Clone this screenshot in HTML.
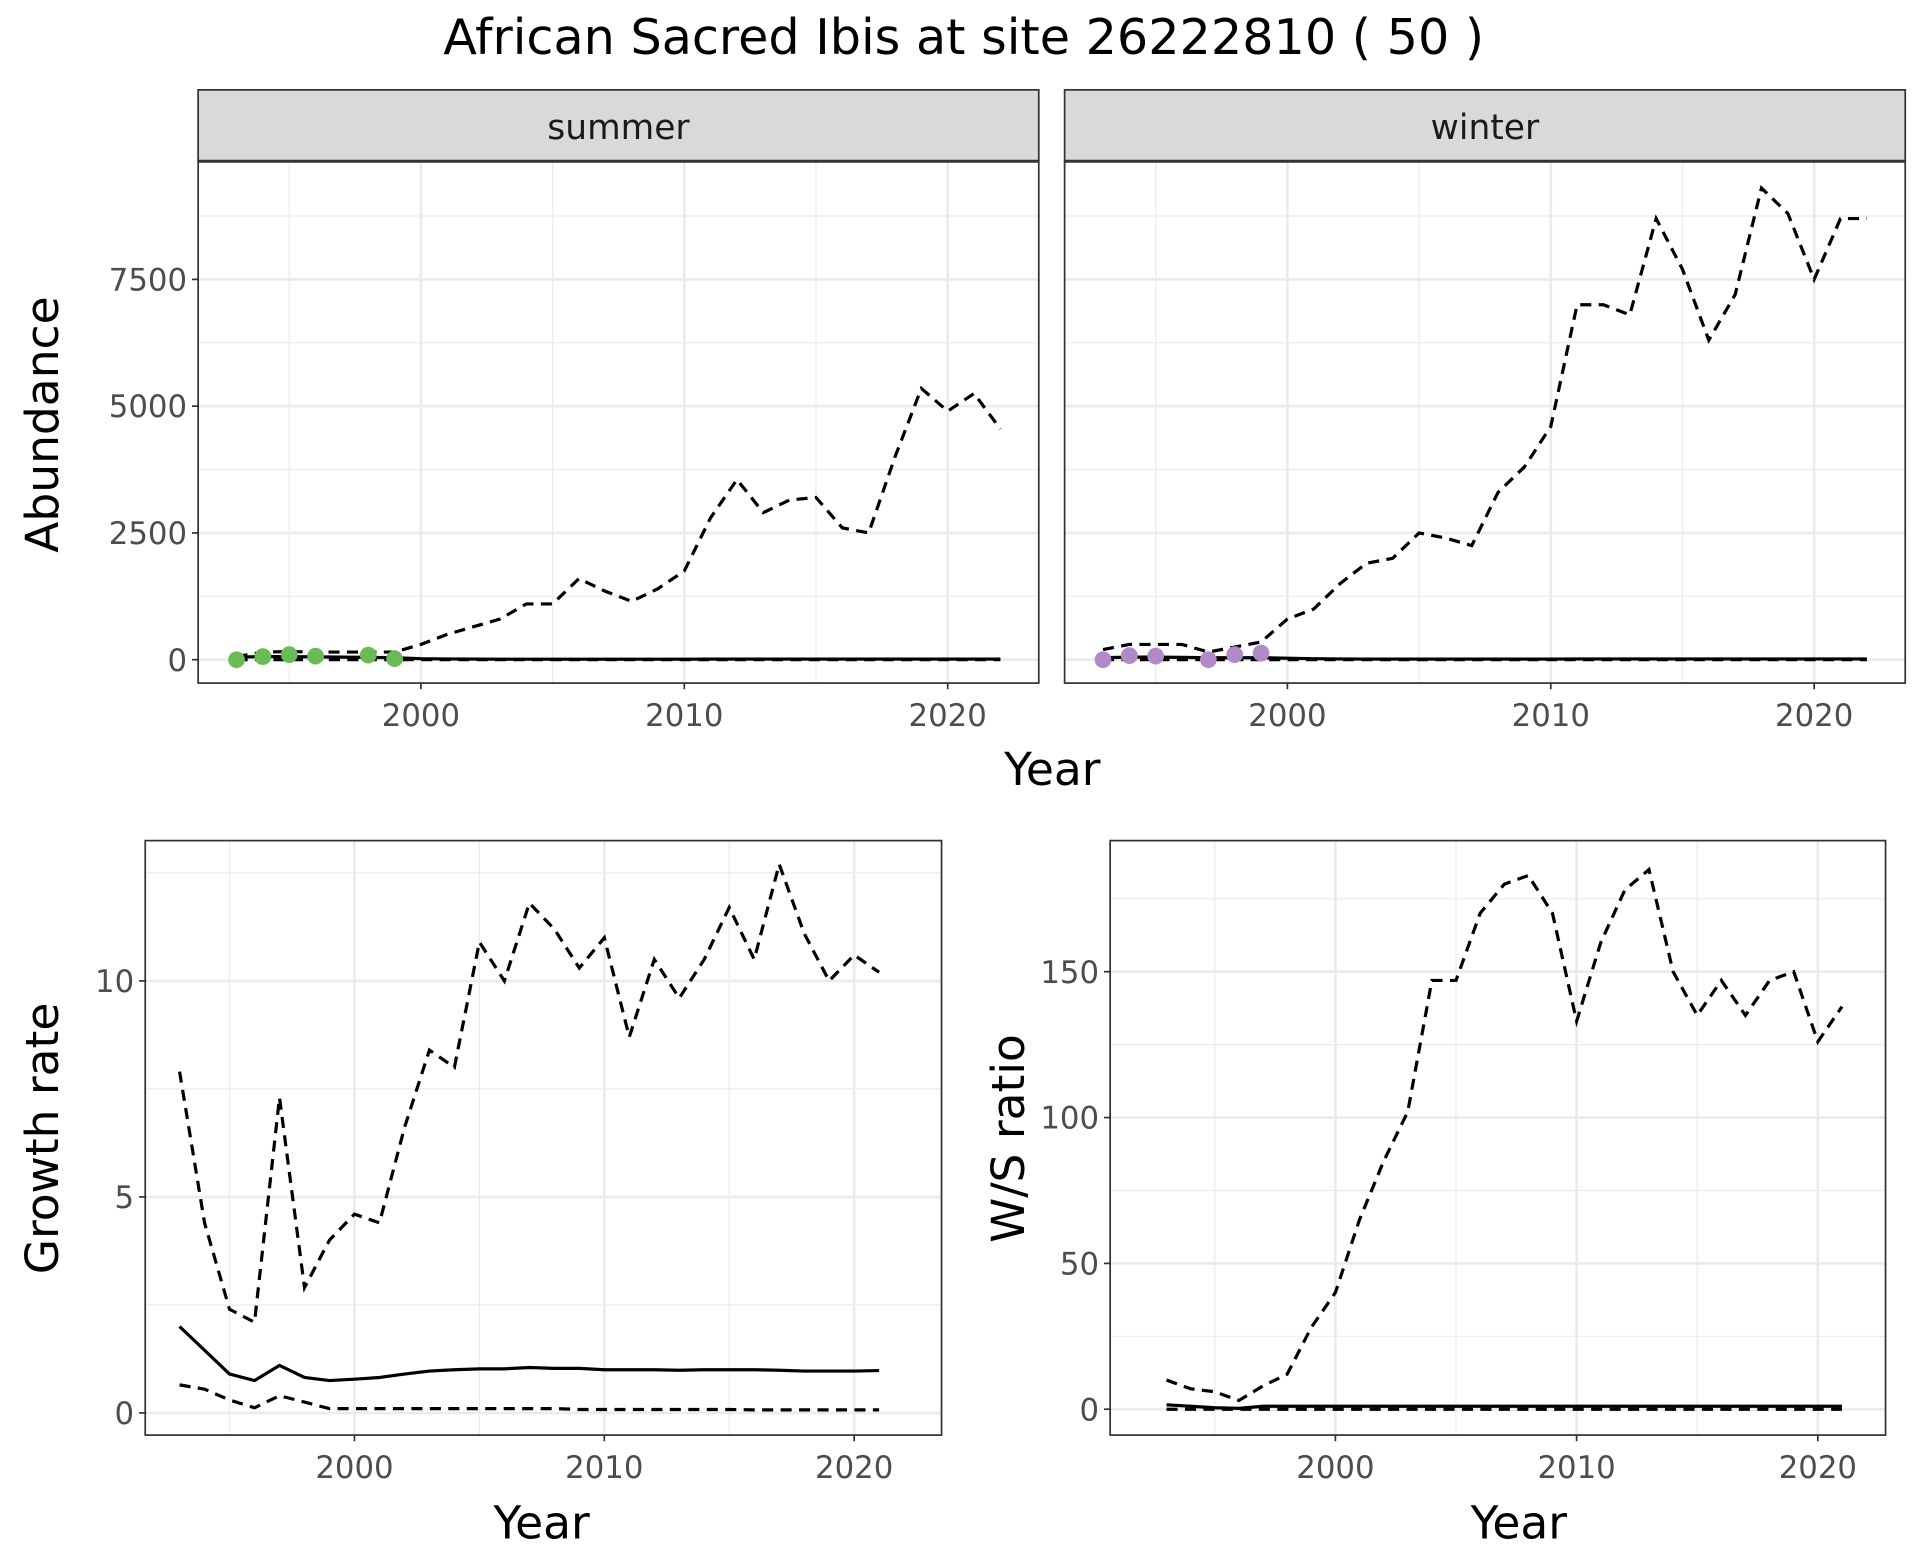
<!DOCTYPE html>
<html><head><meta charset="utf-8"><style>
html,body{margin:0;padding:0;background:#fff}
svg{display:block}
text{font-family:"DejaVu Sans","Liberation Sans",sans-serif}
</style></head><body>
<svg id="chart" width="1920" height="1560" viewBox="0 0 1560 1267.5" xmlns="http://www.w3.org/2000/svg">
<text x="783" y="44" font-size="40" text-anchor="middle" fill="#000">African Sacred Ibis at site 26222810 ( 50 )</text>
</svg>
<script>
const years = [];
for (let y = 1993; y <= 2022; y++) years.push(y);
const summerUpper = [60,150,160,150,150,150,150,300,500,650,800,1100,1100,1600,1350,1150,1400,1750,2800,3550,2900,3150,3200,2600,2500,4000,5350,4900,5250,4550];
const summerFit = [50,60,60,55,50,45,40,20,15,12,10,10,10,10,10,10,10,10,12,12,12,12,12,12,12,12,12,12,12,12];
const summerLower = [0,0,0,0,0,0,0,0,0,0,0,0,0,0,0,0,0,0,0,0,0,0,0,0,0,0,0,0,0,0];
const summerObsYears = [1993,1994,1995,1996,1998,1999];
const summerObs = [0,60,100,70,90,20];
const winterUpper = [200,300,300,300,150,250,350,800,1000,1500,1900,2000,2500,2400,2250,3300,3800,4600,7000,7000,6800,8700,7700,6300,7200,9300,8800,7500,8700,8700];
const winterFit = [40,50,50,45,40,40,40,30,20,15,12,12,12,12,12,12,12,12,15,15,15,15,15,15,15,15,15,15,15,15];
const winterLower = summerLower;
const winterObsYears = [1993,1994,1995,1997,1998,1999];
const winterObs = [0,80,70,0,100,130];
const gYears = years.slice(0,29);
const growthUpper = [7.9,4.4,2.4,2.1,7.3,2.9,4.0,4.6,4.4,6.6,8.4,8.0,10.9,10.0,11.8,11.2,10.3,11.0,8.7,10.5,9.6,10.5,11.7,10.5,12.7,11.1,10.0,10.6,10.2];
const growthMid = [2.0,1.45,0.9,0.75,1.1,0.82,0.75,0.78,0.82,0.9,0.97,1.0,1.02,1.02,1.05,1.03,1.03,1.0,1.0,1.0,0.99,1.0,1.0,1.0,0.99,0.97,0.97,0.97,0.98];
const growthLower = [0.65,0.55,0.3,0.12,0.4,0.25,0.1,0.1,0.1,0.1,0.1,0.1,0.1,0.1,0.1,0.1,0.08,0.08,0.08,0.08,0.08,0.08,0.08,0.07,0.07,0.07,0.07,0.07,0.07];
const wsUpper = [10,7,6,3,8,12,28,40,65,85,102,147,147,170,180,183,170,133,160,178,185,150,135,147,135,147,150,126,138];
const wsMid = [1.5,1,0.5,0.3,1,1,1,1,1,1,1,1,1,1,1,1,1,1,1,1,1,1,1,1,1,1,1,1,1];
const wsLower = [0,0,0,0,0,0,0,0,0,0,0,0,0,0,0,0,0,0,0,0,0,0,0,0,0,0,0,0,0];
const abTicks = [0,2500,5000,7500];
const abMinor = [1250,3750,6250,8750];
const gTicks = [0,5,10];
const gMinor = [2.5,7.5,12.5];
const wsTicks = [0,50,100,150];
const wsMinor = [25,75,125,175];
const xTicks = [2000,2010,2020];
const xMinor = [1995,2005,2015];

const svg = document.getElementById('chart');
const NS = 'http://www.w3.org/2000/svg';
function el(tag, attrs, parent) {
  const e = document.createElementNS(NS, tag);
  for (const k in attrs) e.setAttribute(k, attrs[k]);
  (parent || svg).appendChild(e);
  return e;
}
function lin(d0, d1, r0, r1) { return v => r0 + (v - d0) * (r1 - r0) / (d1 - d0); }

function panel(name, box, xs, ys, yT, yM, showY) {
  const g = el('g', {});
  
  
  el('rect', {x: box.x0, y: box.y0, width: box.x1 - box.x0, height: box.y1 - box.y0, fill: '#fff'}, g);
  yM.forEach(v => el('line', {x1: box.x0, x2: box.x1, y1: ys(v), y2: ys(v), stroke: '#ebebeb', 'stroke-width': 1}, g));
  xMinor.forEach(v => el('line', {y1: box.y0, y2: box.y1, x1: xs(v), x2: xs(v), stroke: '#ebebeb', 'stroke-width': 1}, g));
  yT.forEach(v => el('line', {x1: box.x0, x2: box.x1, y1: ys(v), y2: ys(v), stroke: '#ebebeb', 'stroke-width': 2.2}, g));
  xTicks.forEach(v => el('line', {y1: box.y0, y2: box.y1, x1: xs(v), x2: xs(v), stroke: '#ebebeb', 'stroke-width': 2.2}, g));
  el('rect', {x: box.x0, y: box.y0, width: box.x1 - box.x0, height: box.y1 - box.y0, fill: 'none', stroke: '#333', 'stroke-width': 1.4}, g);
  xTicks.forEach(v => {
    el('line', {x1: xs(v), x2: xs(v), y1: box.y1, y2: box.y1 + 5, stroke: '#333', 'stroke-width': 1.4}, g);
    const t = el('text', {x: xs(v), y: box.y1 + 35, 'font-size': 25, 'text-anchor': 'middle', fill: '#4d4d4d'}, g);
    t.textContent = v;
    
    
  });
  if (showY) yT.forEach(v => {
    el('line', {x1: box.x0 - 5, x2: box.x0, y1: ys(v), y2: ys(v), stroke: '#333', 'stroke-width': 1.4}, g);
    const t = el('text', {x: box.x0 - 9, y: ys(v) + 9, 'font-size': 25, 'text-anchor': 'end', fill: '#4d4d4d'}, g);
    t.textContent = v;
    
    
  });
  return g;
}
function line(g, xArr, yArr, xs, ys, dashed, name) {
  const d = xArr.map((x, i) => (i ? 'L' : 'M') + xs(x).toFixed(1) + ',' + ys(yArr[i]).toFixed(1)).join('');
  const p = el('path', {d: d, fill: 'none', stroke: '#000', 'stroke-width': 2.6, 'stroke-dasharray': dashed ? '9,6' : 'none'}, g);
  
  
}
function points(g, xArr, yArr, xs, ys, col, name) {
  xArr.forEach((x, i) => {
    const c = el('circle', {cx: xs(x), cy: ys(yArr[i]), r: 6.8, fill: col}, g);
    
    
  });
}
function label(txt, x, y, size, rot, name) {
  const t = el('text', {x: x, y: y, 'font-size': size, 'text-anchor': 'middle', fill: '#000'});
  if (rot) t.setAttribute('transform', `rotate(-90 ${x} ${y})`);
  t.textContent = txt;
  
  
}
function strip(x0, x1, txt, name) {
  const g = el('g', {});
  
  
  el('rect', {x: x0, y: 73, width: x1 - x0, height: 58, fill: '#d9d9d9', stroke: '#333', 'stroke-width': 1.4}, g);
  el('line', {x1: x0, x2: x1, y1: 131, y2: 131, stroke: '#333', 'stroke-width': 2.4}, g);
  const t = el('text', {x: (x0 + x1) / 2, y: 113, 'font-size': 28, 'text-anchor': 'middle', fill: '#1a1a1a'}, g);
  t.textContent = txt;
}

// Top panels
const abY = lin(0, 2500, 536, 433);
const sBox = {x0: 161, x1: 844, y0: 131, y1: 555};
const sX = lin(2000, 2010, 342, 556);
const gs = panel('summer-panel', sBox, sX, abY, abTicks, abMinor, true);
line(gs, years, summerUpper, sX, abY, true, 'summer-upper-ci');
line(gs, years, summerLower, sX, abY, true, 'summer-lower-ci');
line(gs, years, summerFit, sX, abY, false, 'summer-fit');
points(gs, summerObsYears, summerObs, sX, abY, '#6bbb55', 'summer-count-point');
strip(161, 844, 'summer', 'summer-strip');

const wBox = {x0: 865, x1: 1548, y0: 131, y1: 555};
const wX = lin(2000, 2010, 1046, 1260);
const gw = panel('winter-panel', wBox, wX, abY, abTicks, abMinor, false);
line(gw, years, winterUpper, wX, abY, true, 'winter-upper-ci');
line(gw, years, winterLower, wX, abY, true, 'winter-lower-ci');
line(gw, years, winterFit, wX, abY, false, 'winter-fit');
points(gw, winterObsYears, winterObs, wX, abY, '#b08bc8', 'winter-count-point');
strip(865, 1548, 'winter', 'winter-strip');

label('Year', 855, 638, 37, false, 'top-x-axis-title');
label('Abundance', 47, 345, 37, true, 'abundance-y-axis-title');

// Growth rate
const grBox = {x0: 118, x1: 765, y0: 683, y1: 1166};
const grX = lin(2000, 2010, 288, 491);
const grY = lin(0, 10, 1148, 797);
const gg = panel('growth-panel', grBox, grX, grY, gTicks, gMinor, true);
line(gg, gYears, growthUpper, grX, grY, true, 'growth-upper-ci');
line(gg, gYears, growthLower, grX, grY, true, 'growth-lower-ci');
line(gg, gYears, growthMid, grX, grY, false, 'growth-rate');
label('Year', 440, 1250, 37, false, 'growth-x-axis-title');
label('Growth rate', 47, 925, 37, true, 'growth-y-axis-title');

// W/S ratio
const wsBox = {x0: 902, x1: 1532, y0: 683, y1: 1166};
const wsX = lin(2000, 2010, 1085, 1281);
const wsY = lin(0, 100, 1145, 908);
const gr = panel('ws-ratio-panel', wsBox, wsX, wsY, wsTicks, wsMinor, true);
line(gr, gYears, wsUpper, wsX, wsY, true, 'ws-upper-ci');
line(gr, gYears, wsLower, wsX, wsY, true, 'ws-lower-ci');
line(gr, gYears, wsMid, wsX, wsY, false, 'ws-ratio');
label('Year', 1234, 1250, 37, false, 'ws-x-axis-title');
label('W/S ratio', 832, 925, 37, true, 'ws-y-axis-title');
</script>
</body></html>
